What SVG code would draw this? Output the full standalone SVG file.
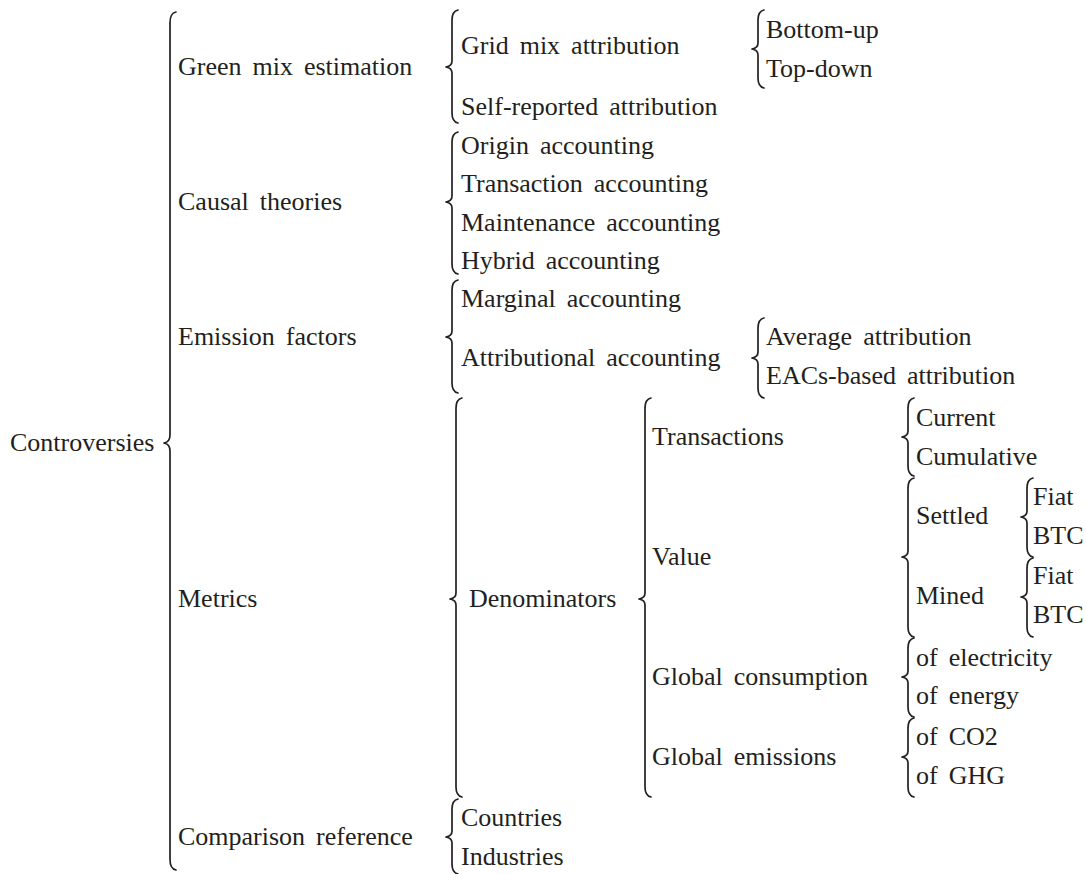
<svg xmlns="http://www.w3.org/2000/svg" width="1086" height="874" viewBox="0 0 1086 874">
<style>
text{font-family:"Liberation Serif","Times New Roman",serif;font-size:26px;fill:#231f20;word-spacing:4.5px}
.b{fill:none;stroke:#231f20;stroke-width:1.7;stroke-linecap:round;stroke-linejoin:round}
</style>
<rect width="1086" height="874" fill="#ffffff"/>
<g id="connectors">
<!-- main -->
<path class="b" d="M176,12 C171.5,13 170,16 170,23 V435 C170,440 167,442.5 164,443 C167,443.5 170,446 170,451 V859 C170,866 171.5,869 176,870"/>
<!-- level 2 -->
<path class="b" d="M458,10 C453.5,11 452,14 452,20 V61 C452,65 449,66.5 446,67 C449,67.5 452,69 452,73 V113 C452,119 453.5,122 458,123"/>
<path class="b" d="M458,132 C453.5,133 452,136 452,142 V196 C452,200 449,201.5 446,202 C449,202.5 452,204 452,208 V264 C452,270 453.5,273 458,274"/>
<path class="b" d="M458,280 C453.5,281 452,284 452,290 V331 C452,335 449,336.5 446,337 C449,337.5 452,339 452,343 V383 C452,389 453.5,392 458,393"/>
<path class="b" d="M462,398 C457.5,399 456,402 456,408 V593 C456,597 453,598.5 450,599 C453,599.5 456,601 456,605 V787 C456,793 457.5,796 462,797"/>
<path class="b" d="M458,799 C453.5,800 452,803 452,809 V831 C452,835 449,836.5 446,837 C449,837.5 452,839 452,843 V864 C452,870 453.5,873 458,874"/>
<!-- level 3 -->
<path class="b" d="M764,10 C759.5,11 758,14 758,20 V43 C758,47 755,48.5 752,49 C755,49.5 758,51 758,55 V78 C758,84 759.5,87 764,88"/>
<path class="b" d="M764,318 C759.5,319 758,322 758,328 V352 C758,356 755,357.5 752,358 C755,358.5 758,360 758,364 V388 C758,394 759.5,397 764,398"/>
<path class="b" d="M651,398 C646.5,399 645,402 645,408 V593 C645,597 642,598.5 639,599 C642,599.5 645,601 645,605 V787 C645,793 646.5,796 651,797"/>
<!-- level 4 -->
<path class="b" d="M914,398 C909.5,399 908,402 908,408 V431 C908,435 905,436.5 902,437 C905,437.5 908,439 908,443 V466 C908,472 909.5,475 914,476"/>
<path class="b" d="M914,478 C909.5,479 908,482 908,488 V551 C908,555 905,556.5 902,557 C905,557.5 908,559 908,563 V627 C908,633 909.5,636 914,637"/>
<path class="b" d="M914,638 C909.5,639 908,642 908,648 V671 C908,675 905,676.5 902,677 C905,677.5 908,679 908,683 V707 C908,713 909.5,716 914,717"/>
<path class="b" d="M914,718 C909.5,719 908,722 908,728 V751 C908,755 905,756.5 902,757 C905,757.5 908,759 908,763 V787 C908,793 909.5,796 914,797"/>
<!-- level 5 -->
<path class="b" d="M1033,478 C1028.5,479 1027,482 1027,488 V511 C1027,515 1024,516.5 1021,517 C1024,517.5 1027,519 1027,523 V547 C1027,553 1028.5,556 1033,557"/>
<path class="b" d="M1033,558 C1028.5,559 1027,562 1027,568 V591 C1027,595 1024,596.5 1021,597 C1024,597.5 1027,599 1027,603 V627 C1027,633 1028.5,636 1033,637"/>
</g>
<g id="n-controversies"><text x="10" y="451">Controversies</text></g>
<g id="n-green"><text x="178" y="75">Green mix estimation</text></g>
<g id="n-causal"><text x="178" y="210">Causal theories</text></g>
<g id="n-emission"><text x="178" y="345">Emission factors</text></g>
<g id="n-metrics"><text x="178" y="607">Metrics</text></g>
<g id="n-comparison"><text x="178" y="845">Comparison reference</text></g>
<g id="n-grid"><text x="461" y="54">Grid mix attribution</text></g>
<g id="n-self"><text x="461" y="115">Self-reported attribution</text></g>
<g id="n-bottomup"><text x="766" y="38">Bottom-up</text></g>
<g id="n-topdown"><text x="766" y="77">Top-down</text></g>
<g id="n-origin"><text x="461" y="154">Origin accounting</text></g>
<g id="n-transaction"><text x="461" y="192">Transaction accounting</text></g>
<g id="n-maintenance"><text x="461" y="231">Maintenance accounting</text></g>
<g id="n-hybrid"><text x="461" y="269">Hybrid accounting</text></g>
<g id="n-marginal"><text x="461" y="307">Marginal accounting</text></g>
<g id="n-attributional"><text x="461" y="366">Attributional accounting</text></g>
<g id="n-average"><text x="766" y="345">Average attribution</text></g>
<g id="n-eacs"><text x="766" y="384">EACs-based attribution</text></g>
<g id="n-denominators"><text x="469" y="607">Denominators</text></g>
<g id="n-transactions"><text x="652" y="445">Transactions</text></g>
<g id="n-current"><text x="916" y="426">Current</text></g>
<g id="n-cumulative"><text x="916" y="465">Cumulative</text></g>
<g id="n-value"><text x="652" y="565">Value</text></g>
<g id="n-settled"><text x="916" y="524">Settled</text></g>
<g id="n-fiat1"><text x="1033" y="505">Fiat</text></g>
<g id="n-btc1"><text x="1033" y="544">BTC</text></g>
<g id="n-mined"><text x="916" y="604">Mined</text></g>
<g id="n-fiat2"><text x="1033" y="584">Fiat</text></g>
<g id="n-btc2"><text x="1033" y="623">BTC</text></g>
<g id="n-globalcons"><text x="652" y="685">Global consumption</text></g>
<g id="n-electricity"><text x="916" y="666">of electricity</text></g>
<g id="n-energy"><text x="916" y="704">of energy</text></g>
<g id="n-globalem"><text x="652" y="765">Global emissions</text></g>
<g id="n-co2"><text x="916" y="745">of CO2</text></g>
<g id="n-ghg"><text x="916" y="784">of GHG</text></g>
<g id="n-countries"><text x="461" y="826">Countries</text></g>
<g id="n-industries"><text x="461" y="865">Industries</text></g>
</svg>
